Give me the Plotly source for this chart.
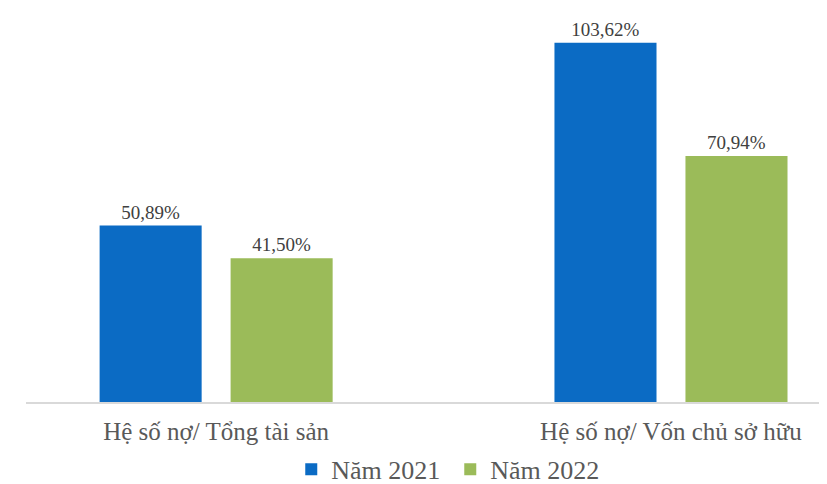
import plotly.graph_objects as go

categories = ["Hệ số nợ/ Tổng tài sản", "Hệ số nợ/ Vốn chủ sở hữu"]
series_names = ["Năm 2021", "Năm 2022"]
values_2021 = [50.89, 103.62]
values_2022 = [41.50, 70.94]

colors = ["#0B6BC4", "#9BBB59"]
text_color = "#595959"
serif = "Liberation Serif, Times New Roman, serif"

fig = go.Figure()
for name, vals, col in zip(series_names, [values_2021, values_2022], colors):
    fig.add_trace(go.Bar(
        x=categories, y=vals, name=name,
        marker=dict(color=col, line=dict(width=0)),
        texttemplate="%{y:.2f}%", textposition="outside",
        textfont=dict(family=serif, size=19, color="#404040"),
        cliponaxis=False,
    ))

# page body has an 8px margin, so the figure is 8px smaller and shifted
fig.update_layout(
    width=819, height=476,
    margin=dict(l=18, r=0, t=12, b=82),
    paper_bgcolor="white", plot_bgcolor="white",
    separators=",.",
    barmode="group", bargap=0.424, bargroupgap=0.221,
    showlegend=True,
    legend=dict(orientation="h", xref="container", yref="container",
                x=0.540, xanchor="center", y=0.031, yanchor="middle",
                font=dict(family=serif, size=26, color=text_color),
                entrywidth=114, entrywidthmode="pixels",
                itemsizing="constant"),
    xaxis=dict(range=[-0.418, 1.343], showline=True, linecolor="#D9D9D9", linewidth=2,
               ticks="", ticklabelstandoff=6, automargin=False,
               tickfont=dict(family=serif, size=25, color=text_color),
               showgrid=False),
    yaxis=dict(range=[0, 110.2], visible=False, showgrid=False, zeroline=False),
)

fig.write_html("out.html")
